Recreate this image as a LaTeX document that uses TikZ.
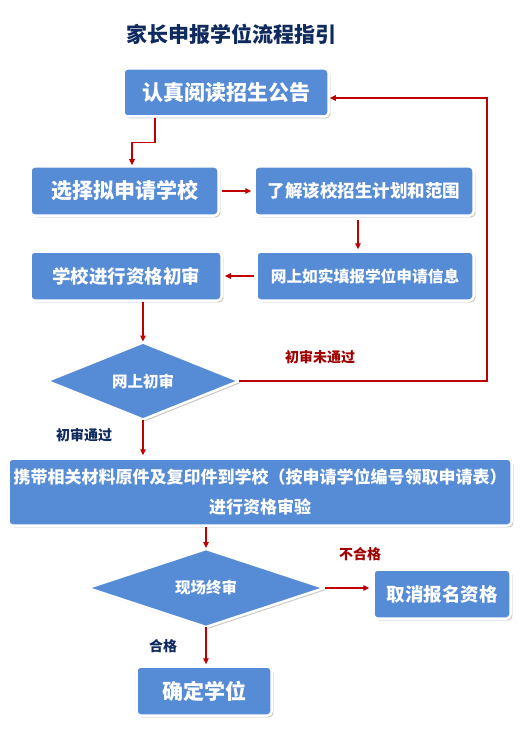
\documentclass[tikz,border=0pt]{standalone}
\usepackage{fontspec}
\setmainfont{Noto Sans CJK SC}
\usetikzlibrary{shapes.geometric,shadows,arrows.meta,calc}
\definecolor{boxblue}{HTML}{568BD5}
\definecolor{arrred}{HTML}{C00000}
\definecolor{navy}{HTML}{0F2A5E}
\definecolor{lblred}{HTML}{A00000}
\begin{document}
\begin{tikzpicture}[x=1pt,y=-1pt,
  stepbox/.style={rectangle,rounded corners=4pt,fill=boxblue,draw=white,line width=2.5pt,
    text=white,font=\bfseries,inner sep=0pt,
    drop shadow={shadow xshift=1.8pt,shadow yshift=-1.8pt,fill=black!28,opacity=0.8}},
  decide/.style={diamond,fill=boxblue,draw=white,line width=2.5pt,text=white,font=\bfseries\fontsize{15.5}{18}\selectfont,
    inner sep=0pt,outer sep=0pt,
    drop shadow={shadow xshift=1.8pt,shadow yshift=-1.8pt,fill=black!28,opacity=0.8}},
  arr/.style={draw=arrred,line width=1.1pt,-{Triangle[length=6pt,width=5.5pt]}},
  redlbl/.style={text=lblred,font=\bfseries\fontsize{14}{16}\selectfont},
  navylbl/.style={text=navy,font=\bfseries\fontsize{14}{16}\selectfont}]
\useasboundingbox[fill=white] (0,0) rectangle (527,738);
\node[text=navy,font=\bfseries\fontsize{21}{24}\selectfont] (title) at (231,34) {家长申报学位流程指引};
\node[stepbox,minimum width=205,minimum height=48,font=\bfseries\fontsize{21}{24}\selectfont] (b1) at (226,92.5) {认真阅读招生公告};
\node[stepbox,minimum width=188,minimum height=49,font=\bfseries\fontsize{21}{24}\selectfont] (b2) at (124.5,191) {选择拟申请学校};
\node[stepbox,minimum width=219,minimum height=49,font=\bfseries\fontsize{17.5}{20}\selectfont] (b3) at (364,191) {了解该校招生计划和范围};
\node[stepbox,minimum width=191,minimum height=49,font=\bfseries\fontsize{18.5}{21}\selectfont] (b4) at (126,276) {学校进行资格初审};
\node[stepbox,minimum width=217,minimum height=49,font=\bfseries\fontsize{15.7}{19}\selectfont] (b5) at (365,276) {网上如实填报学位申请信息};
\node[decide,minimum width=192,minimum height=77] (d1) at (143,381) {网上初审};
\node[stepbox,minimum width=503,minimum height=67,align=center,font=\bfseries\fontsize{17}{34}\selectfont] (b6) at (260,492) {携带相关材料原件及复印件到学校（按申请学位编号领取申请表）\\[-0.2em]进行资格审验};
\node[decide,minimum width=237,minimum height=78] (d2) at (206,588) {现场终审};
\node[stepbox,minimum width=137,minimum height=49,font=\bfseries\fontsize{18.5}{21}\selectfont] (b7) at (442,594) {取消报名资格};
\node[stepbox,minimum width=135,minimum height=49,font=\bfseries\fontsize{21}{24}\selectfont] (b8) at (204,691) {确定学位};
\coordinate (loop) at (487,98);
\draw[arr] ([xshift=-71pt]b1.south) -- ++(0,25) -| ([xshift=7.5pt]b2.north);
\draw[arr,shorten <=2pt,shorten >=2pt] (b2.east) -- (b3.west);
\draw[arr,shorten <=3pt,shorten >=1pt] ([xshift=-6pt]b3.south) -- ([xshift=-6pt]b3.south |- b5.north);
\draw[arr,shorten <=1pt,shorten >=2pt] (b5.west) -- (b4.east);
\draw[arr,shorten >=1pt] (d1.north |- b4.south) -- (d1.north);
\draw[arr] (d1.east) -| (loop) -- (b1.east |- loop);
\draw[arr,shorten >=2pt] (d1.south) -- (d1.south |- b6.north);
\draw[arr,shorten >=1pt] (d2.north |- b6.south) -- (d2.north);
\draw[arr,shorten >=3pt] (d2.east) -- (d2.east -| b7.west);
\draw[arr,shorten >=1pt] (d2.south) -- (d2.south |- b8.north);
\node[redlbl] (l1) at (320,357) {初审未通过};
\node[navylbl] (l2) at (84,435) {初审通过};
\node[redlbl] (l3) at (360,554) {不合格};
\node[navylbl] (l4) at (163,646) {合格};
\end{tikzpicture}
\end{document}
